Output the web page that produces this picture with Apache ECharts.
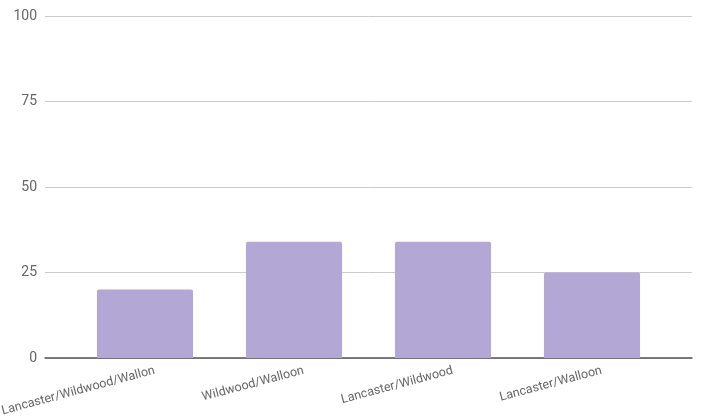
<!DOCTYPE html>
<html>
<head>
<meta charset="utf-8">
<script src="https://cdn.jsdelivr.net/npm/echarts@6/dist/echarts.min.js"></script>
<style>
  html, body { margin: 0; padding: 0; background: #fff; }
  #chart { width: 701px; height: 416px; }
</style>
</head>
<body>
<div id="chart"></div>
<script>
// Route groupings and their values
const categories = ['Lancaster/Wildwood/Wallon', 'Wildwood/Walloon', 'Lancaster/Wildwood', 'Lancaster/Walloon'];
const values = [20, 34, 34, 25];
const yTicks = { min: 0, max: 100, interval: 25 };

const chart = echarts.init(document.getElementById('chart'), null, { renderer: 'canvas' });
chart.setOption({
  animation: false,
  backgroundColor: '#ffffff',
  // Outer grid carries the value axis, gridlines and baseline; inner grid holds the bars
  grid: [
    { left: 45, right: 9, top: 16, bottom: 58, outerBoundsMode: 'none' },
    { left: 70.5, right: 34.5, top: 16, bottom: 58, outerBoundsMode: 'none' }
  ],
  xAxis: [
    {
      gridIndex: 0,
      type: 'category',
      data: categories,
      axisLine: { lineStyle: { color: '#555555', width: 1.5 } },
      axisTick: { show: false },
      axisLabel: { show: false }
    },
    {
      gridIndex: 1,
      type: 'category',
      data: categories,
      axisLine: { show: false },
      axisTick: { show: false },
      axisLabel: {
        rotate: 15,
        margin: 15,
        padding: [0, -10, 0, 0],
        color: '#666666',
        fontFamily: 'Roboto',
        fontSize: 12.5,
        interval: 0
      }
    }
  ],
  yAxis: [
    {
      gridIndex: 0,
      type: 'value',
      min: yTicks.min,
      max: yTicks.max,
      interval: yTicks.interval,
      axisLine: { show: false },
      axisTick: { show: false },
      splitLine: { lineStyle: { color: '#cccccc', width: 1 } },
      axisLabel: {
        margin: 8,
        color: '#666666',
        fontFamily: 'Roboto',
        fontSize: 14
      }
    },
    {
      gridIndex: 1,
      type: 'value',
      min: yTicks.min,
      max: yTicks.max,
      interval: yTicks.interval,
      show: false,
      splitLine: { show: false }
    }
  ],
  series: [{
    type: 'bar',
    xAxisIndex: 1,
    yAxisIndex: 1,
    data: values,
    barWidth: '64.5%',
    itemStyle: { color: '#b3a7d6', borderRadius: [2, 2, 0, 0] }
  }]
});
</script>
</body>
</html>
